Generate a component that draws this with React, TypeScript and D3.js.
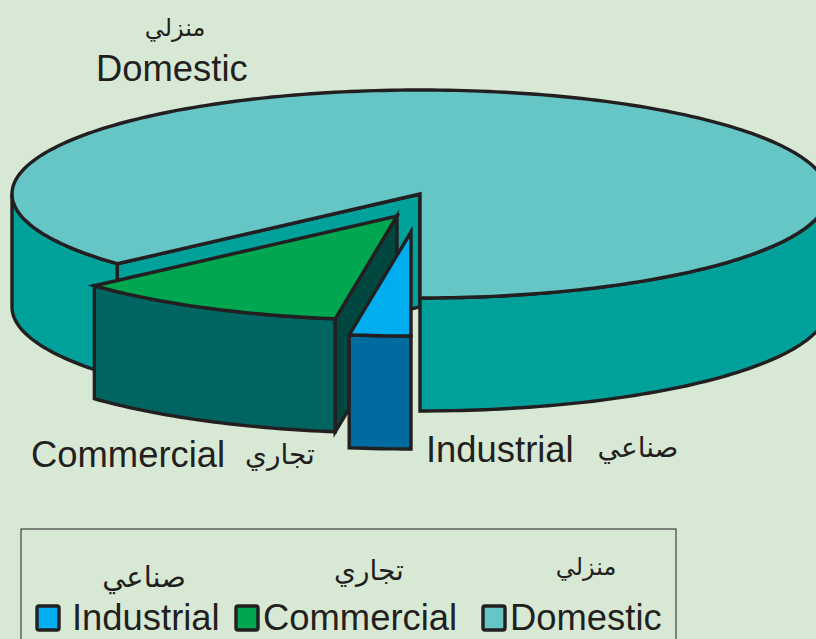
import React from "react";
import * as d3 from "d3";

const categories = ["Industrial", "Commercial", "Domestic"];
const arabicNames = ["صناعي", "تجاري", "منزلي"];
const shares = [2.42, 10.88, 86.7];
const topColors = ["#00aeef", "#00a650", "#66c5c5"];
const wallColors = ["#006b9e", "#006560", "#00a19a"];
const faceColors = ["#004d6e", "#00483f", "#00a19a"];

const W = 816, H = 639;
const CX = 420, CY = 194, RX = 408, RY = 104, DEPTH = 113;
const offsets: [number, number][] = [[-9, 38], [-23, 22], [0, 0]];
const INK = "#231f20";
const BG = "#d7e9d4";
const SW = 3.4;
const LATIN = "'Liberation Sans', Arial, sans-serif";
const ARABIC = "'DejaVu Sans', sans-serif";

const arcs = d3.pie<number>().sort(null).startAngle(Math.PI).endAngle(3 * Math.PI)(shares);

const sx = d3.scaleLinear().domain([-1, 1]).range([-RX, RX]);
const sy = d3.scaleLinear().domain([-1, 1]).range([-RY, RY]);
const pt = (a: number, off: [number, number], dz = 0): [number, number] => [
  CX + off[0] + sx(Math.sin(a)),
  CY + off[1] + sy(-Math.cos(a)) + dz,
];
const sample = (a0: number, a1: number, off: [number, number], dz = 0) => {
  const n = Math.max(2, Math.ceil(Math.abs(a1 - a0) / 0.02));
  return d3.range(n + 1).map((i) => pt(a0 + ((a1 - a0) * i) / n, off, dz));
};
const line = d3.line();
const poly = (pts: [number, number][]) => line(pts) + "Z";

function Wall({ a0, a1, off, fill }: { a0: number; a1: number; off: [number, number]; fill: string }) {
  const top = sample(a0, a1, off);
  const bot = sample(a1, a0, off, DEPTH);
  return <path d={poly([...top, ...bot])} fill={fill} stroke={INK} strokeWidth={SW} strokeLinejoin="miter" />;
}

function Face({ a, off, fill }: { a: number; off: [number, number]; fill: string }) {
  const apex: [number, number] = [CX + off[0], CY + off[1]];
  const rim = pt(a, off);
  return (
    <path
      d={poly([apex, rim, [rim[0], rim[1] + DEPTH], [apex[0], apex[1] + DEPTH]])}
      fill={fill}
      stroke={INK}
      strokeWidth={SW}
      strokeLinejoin="miter"
    />
  );
}

function Top({ a0, a1, off, fill }: { a0: number; a1: number; off: [number, number]; fill: string }) {
  const apex: [number, number] = [CX + off[0], CY + off[1]];
  return <path d={poly([apex, ...sample(a0, a1, off)])} fill={fill} stroke={INK} strokeWidth={SW} strokeLinejoin="miter" strokeMiterlimit={6} />;
}

const swatchX = [37, 236, 483];
const legendTextX = [72, 263, 510];
const legendArabicX = [144, 369, 586];
const legendArabicY = [587, 580, 575];
const legendArabicSize = [29, 28, 24];
const calloutLatin: [number, number][] = [[426, 462], [31, 467], [96, 81]];
const calloutArabic: [number, number][] = [[638, 457], [280, 464], [175, 36]];
const calloutArabicSize = [28, 28, 24];
const LATIN_SIZE = 36.4;

export default function App() {
  const [ind, com, dom] = arcs;
  const leftEnd = (3 * Math.PI) / 2;
  return (
    <svg
      width={W}
      height={H}
      viewBox={`0 0 ${W} ${H}`}
      style={{ position: "fixed", left: 0, top: 0, display: "block", background: BG }}
    >
      {/* Domestic */}
      <Wall a0={dom.startAngle} a1={leftEnd} off={offsets[2]} fill={wallColors[2]} />
      <Face a={dom.startAngle} off={offsets[2]} fill={faceColors[2]} />
      <Wall a0={Math.PI / 2} a1={Math.PI} off={offsets[2]} fill={wallColors[2]} />
      <Top a0={dom.startAngle} a1={dom.endAngle} off={offsets[2]} fill={topColors[2]} />

      {/* Commercial */}
      <Face a={com.startAngle} off={offsets[1]} fill={faceColors[1]} />
      <Wall a0={com.startAngle} a1={com.endAngle} off={offsets[1]} fill={wallColors[1]} />
      <Top a0={com.startAngle} a1={com.endAngle} off={offsets[1]} fill={topColors[1]} />

      {/* Industrial */}
      <Wall a0={ind.startAngle} a1={ind.endAngle} off={offsets[0]} fill={wallColors[0]} />
      <Top a0={ind.startAngle} a1={ind.endAngle} off={offsets[0]} fill={topColors[0]} />

      {/* Callouts */}
      {categories.map((c, i) => (
        <g key={c} fill={INK}>
          <text x={calloutLatin[i][0]} y={calloutLatin[i][1]} fontFamily={LATIN} fontSize={LATIN_SIZE}>{c}</text>
          <text x={calloutArabic[i][0]} y={calloutArabic[i][1]} fontFamily={ARABIC} fontSize={calloutArabicSize[i]} textAnchor="middle" direction="rtl">{arabicNames[i]}</text>
        </g>
      ))}

      {/* Legend */}
      <rect x={21} y={529} width={655} height={130} fill="none" stroke={INK} strokeWidth={1} />
      {categories.map((c, i) => (
        <g key={c + "-legend"} fill={INK}>
          <rect x={swatchX[i]} y={606} width={22} height={24} rx={2} fill={topColors[i]} stroke={INK} strokeWidth={SW} />
          <text x={legendTextX[i]} y={630} fontFamily={LATIN} fontSize={LATIN_SIZE}>{c}</text>
          <text x={legendArabicX[i]} y={legendArabicY[i]} fontFamily={ARABIC} fontSize={legendArabicSize[i]} textAnchor="middle" direction="rtl">{arabicNames[i]}</text>
        </g>
      ))}
    </svg>
  );
}
